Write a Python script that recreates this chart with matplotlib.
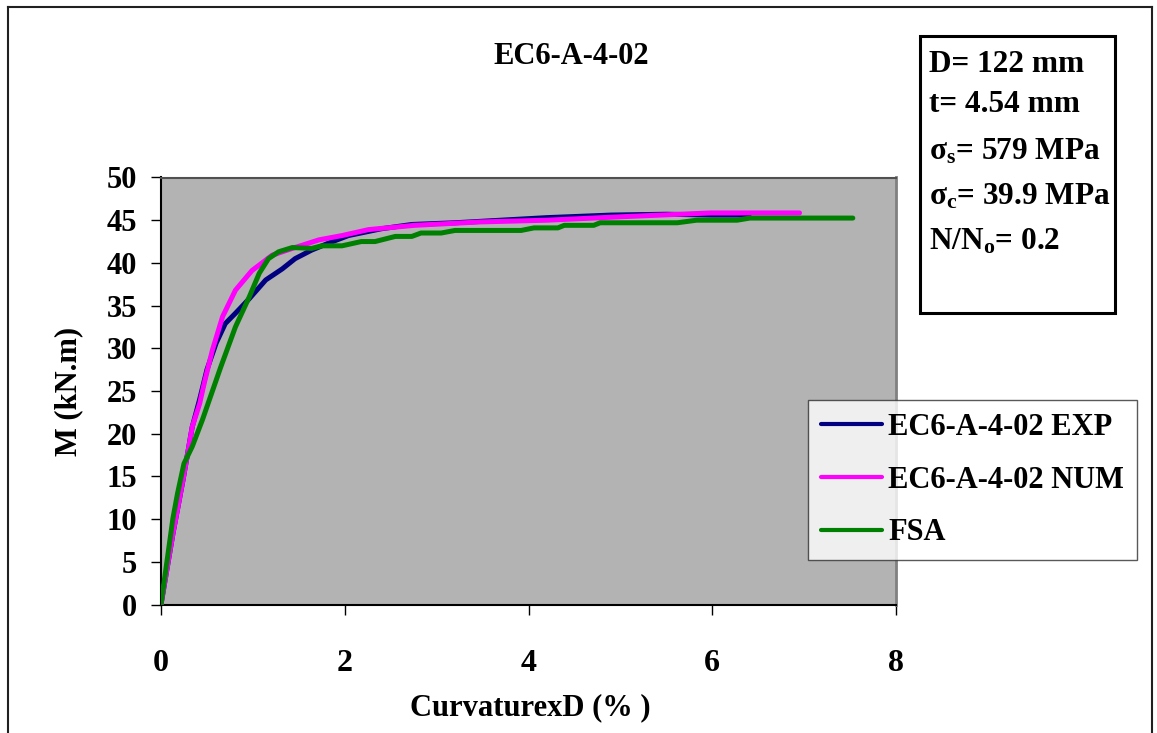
import matplotlib
matplotlib.use("Agg")
import matplotlib.pyplot as plt
from matplotlib.patches import Rectangle
from matplotlib.lines import Line2D

plt.rcParams['font.family'] = ['Liberation Serif', 'DejaVu Serif']
plt.rcParams['font.weight'] = 'bold'
plt.rcParams['mathtext.fontset'] = 'custom'
plt.rcParams['mathtext.rm'] = 'Liberation Serif:bold'
plt.rcParams['mathtext.it'] = 'Liberation Serif:bold'
plt.rcParams['mathtext.bf'] = 'Liberation Serif:bold'

# Moment-curvature data
exp_x = [0, 0.13, 0.24, 0.34, 0.42, 0.50, 0.60, 0.70, 0.81, 0.96, 1.14, 1.32, 1.46,
         1.64, 1.82, 2.04, 2.40, 2.73, 3.20, 3.70, 4.20, 4.90, 5.50, 6.00, 6.40]
exp_y = [0, 8.3, 14.6, 20.8, 24.0, 27.5, 30.6, 32.9, 34.1, 35.8, 38.0, 39.3, 40.5,
         41.5, 42.3, 43.2, 44.0, 44.5, 44.7, 45.0, 45.3, 45.6, 45.7, 45.6, 45.6]

num_x = [0, 0.13, 0.24, 0.34, 0.42, 0.47, 0.56, 0.67, 0.81, 0.99, 1.21, 1.43, 1.72,
         1.97, 2.26, 2.76, 3.48, 4.20, 5.00, 5.98, 6.95]
num_y = [0, 8.3, 14.6, 20.8, 23.5, 25.9, 29.8, 33.7, 36.8, 39.1, 40.9, 41.7, 42.7,
         43.2, 43.9, 44.4, 44.8, 45.0, 45.4, 45.85, 45.85]

fsa_x = [0, 0.13, 0.18, 0.25, 0.34, 0.45, 0.65, 0.81, 0.96, 1.07, 1.17, 1.28, 1.43,
         1.64, 1.75, 1.97, 2.18, 2.33, 2.55, 2.73, 2.83, 3.05, 3.20, 3.92, 4.06, 4.32,
         4.39, 4.71, 4.78, 5.62, 5.83, 6.27, 6.41, 7.53]
fsa_y = [0, 10.1, 13.0, 16.5, 18.5, 21.6, 27.8, 32.5, 36.0, 38.8, 40.5, 41.3, 41.8,
         41.7, 42.0, 42.0, 42.5, 42.5, 43.1, 43.1, 43.5, 43.5, 43.8, 43.8, 44.1, 44.1,
         44.4, 44.4, 44.7, 44.7, 45.0, 45.0, 45.25, 45.25]

x_ticks = [0, 2, 4, 6, 8]
y_ticks = [0, 5, 10, 15, 20, 25, 30, 35, 40, 45, 50]

title = "EC6-A-4-02"
series_labels = ["EC6-A-4-02 EXP", "EC6-A-4-02 NUM", "FSA"]
info_lines = ["D= 122 mm", "t= 4.54 mm", r"σ$_\mathrm{s}$= 579 MPa",
              r"σ$_\mathrm{c}$= 39.9 MPa", r"N/N$_\mathrm{o}$= 0.2"]

W, H = 1157, 733
fig = plt.figure(figsize=(W / 100, H / 100), dpi=100)
fig.patch.set_facecolor('white')

def fx(px):
    return px / W

def fy(py):
    return 1 - py / H

ax = fig.add_axes([fx(161), fy(604.5), fx(896) - fx(161), fy(177.5) - fy(604.5)])
ax.set_facecolor('#b3b3b3')

lw = 3.6
ax.plot(exp_x, exp_y, color='#000080', lw=lw, solid_capstyle='round',
        solid_joinstyle='round', label=series_labels[0], zorder=3)
ax.plot(num_x, num_y, color='#ff00ff', lw=lw, solid_capstyle='round',
        solid_joinstyle='round', label=series_labels[1], zorder=4)
ax.plot(fsa_x, fsa_y, color='#008000', lw=lw, solid_capstyle='round',
        solid_joinstyle='round', label=series_labels[2], zorder=5)

ax.set_xlim(0, 8)
ax.set_ylim(0, 50)
ax.set_xticks(x_ticks)
ax.set_yticks(y_ticks)
ax.tick_params(axis='y', direction='out', length=7, width=1, pad=10, labelsize=22)
ax.tick_params(axis='x', direction='out', length=7, width=1, pad=25, labelsize=23)
for lab in ax.get_xticklabels() + ax.get_yticklabels():
    lab.set_fontweight('bold')

ax.spines['left'].set_color('black')
ax.spines['bottom'].set_color('black')
ax.spines['left'].set_linewidth(1.5)
ax.spines['bottom'].set_linewidth(1.5)
ax.spines['top'].set_color('#505050')
ax.spines['top'].set_linewidth(1.5)
ax.spines['right'].set_color('#808080')
ax.spines['right'].set_linewidth(2)

ax.set_xlabel("CurvaturexD (% )", fontsize=22, fontweight='bold')
ax.set_ylabel("M (kN.m)", fontsize=22, fontweight='bold')
ax.xaxis.set_label_coords(0.503, -0.208)
ax.yaxis.set_label_coords(-0.106, 0.5)

fig.text(fx(571), fy(57), title, ha='center', va='center', fontsize=22,
         fontweight='bold')

# Outer chart frame (left, top, right)
frame_kw = dict(color='#202020', lw=1.5, transform=fig.transFigure)
fig.add_artist(Line2D([fx(8), fx(8)], [-0.01, fy(7)], **frame_kw))
fig.add_artist(Line2D([fx(8), fx(1152)], [fy(7), fy(7)], **frame_kw))
fig.add_artist(Line2D([fx(1152), fx(1152)], [fy(7), -0.01], **frame_kw))

# Specimen properties box
fig.add_artist(Rectangle((fx(920), fy(313)), fx(1115) - fx(920), fy(36) - fy(313),
                         transform=fig.transFigure, fill=False, ec='black', lw=2.2))
info_y = [64, 104, 152, 197, 242]
for txt, py in zip(info_lines, info_y):
    fig.text(fx(929), fy(py), txt, ha='left', va='center', fontsize=22.5,
             fontweight='bold')

leg = fig.legend(loc='upper left', bbox_to_anchor=(fx(808), fy(400)),
                 prop={'family': 'Liberation Serif', 'weight': 'bold', 'size': 22},
                 frameon=True, fancybox=False, shadow=False, borderpad=0.42,
                 handlelength=2.0, handletextpad=0.2, labelspacing=0.78,
                 borderaxespad=0)
leg.get_frame().set_edgecolor('#303030')
leg.get_frame().set_linewidth(1.0)
for h in leg.get_lines():
    h.set_linewidth(3.0)

fig.savefig("out.png", dpi=100, facecolor='white')
